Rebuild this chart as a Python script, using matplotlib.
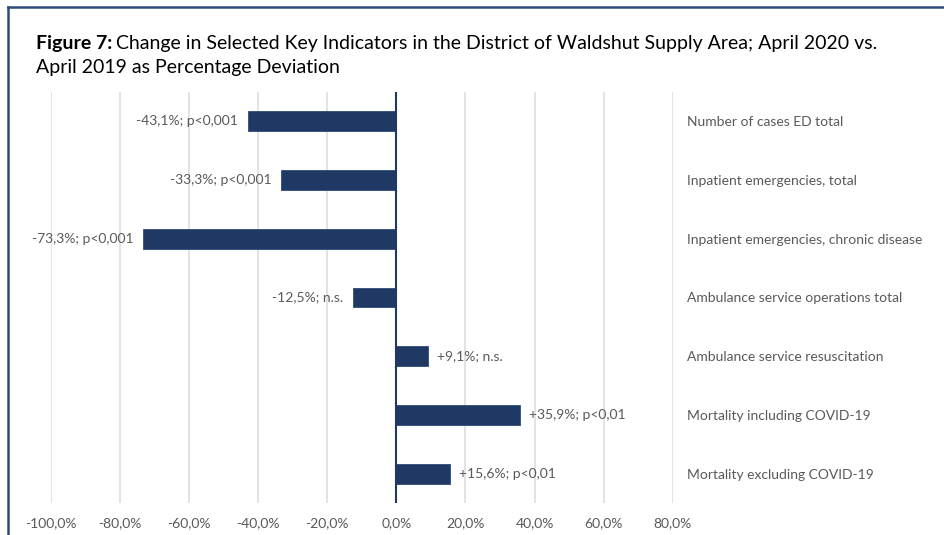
import matplotlib
matplotlib.use("Agg")
import matplotlib.pyplot as plt
from matplotlib.lines import Line2D

categories = [
    "Number of cases ED total",
    "Inpatient emergencies, total",
    "Inpatient emergencies, chronic disease",
    "Ambulance service operations total",
    "Ambulance service resuscitation",
    "Mortality including COVID-19",
    "Mortality excluding COVID-19",
]
values = [-43.1, -33.3, -73.3, -12.5, 9.1, 35.9, 15.6]
significance = ["p<0,001", "p<0,001", "p<0,001", "n.s.", "n.s.", "p<0,01", "p<0,01"]
xticks = [-100, -80, -60, -40, -20, 0, 20, 40, 60, 80]

plt.rcParams['font.family'] = ['Lato', 'DejaVu Sans']
gray = '#595959'
navy = '#203864'

W, H = 944, 535
fig = plt.figure(figsize=(W / 100, H / 100), dpi=100)
ax = fig.add_axes([51 / W, 1 - 503 / H, (672.7 - 51) / W, (503 - 92) / H])

y = list(range(len(categories)))
ax.barh(y, values, height=0.34, color=navy, edgecolor='#2e4a7d', linewidth=0.6, zorder=3)
ax.set_xlim(-100, 80)
ax.set_ylim(len(categories) - 0.5, -0.5)

for xi in xticks:
    if xi != 0:
        ax.axvline(xi, color='#dedede', linewidth=1.2, zorder=1)
ax.axvline(0, color=navy, linewidth=1.5, zorder=4)

for yi, v, s in zip(y, values, significance):
    txt = f"{v:+.1f}%; {s}".replace('.', ',', 1)
    if v < 0:
        ax.text(v - 2.8, yi, txt, ha='right', va='center', fontsize=10, color=gray)
    else:
        ax.text(v + 2.6, yi, txt, ha='left', va='center', fontsize=10, color=gray)

ax.set_xticks(xticks)
ax.set_xticklabels([f"{t:.1f}%".replace('.', ',') for t in xticks], fontsize=10, color=gray)
ax.tick_params(axis='x', length=0, pad=10)
ax.yaxis.tick_right()
ax.set_yticks(y)
ax.set_yticklabels(categories, fontsize=10, color=gray)
ax.tick_params(axis='y', length=0, pad=10)
for sp in ax.spines.values():
    sp.set_visible(False)

# title: bold prefix, regular rest
t1 = fig.text(36 / W, 1 - 44 / H, "Figure 7:", fontsize=14, fontweight='bold', va='center', ha='left')
fig.canvas.draw()
bb = t1.get_window_extent()
fig.text((bb.x1 + 4) / W, 1 - 44 / H,
         "Change in Selected Key Indicators in the District of Waldshut Supply Area; April 2020 vs.",
         fontsize=14, va='center', ha='left')
fig.text(36 / W, 1 - 67 / H, "April 2019 as Percentage Deviation", fontsize=14, va='center', ha='left')

# frame lines (left and top)
fig.add_artist(Line2D([8 / W, 8 / W], [0, 1 - 7 / H], color='#2e4a7d', linewidth=1.8, transform=fig.transFigure))
fig.add_artist(Line2D([8 / W, 1], [1 - 7 / H, 1 - 7 / H], color='#2e4a7d', linewidth=1.8, transform=fig.transFigure))

fig.savefig("out.png", dpi=100)
